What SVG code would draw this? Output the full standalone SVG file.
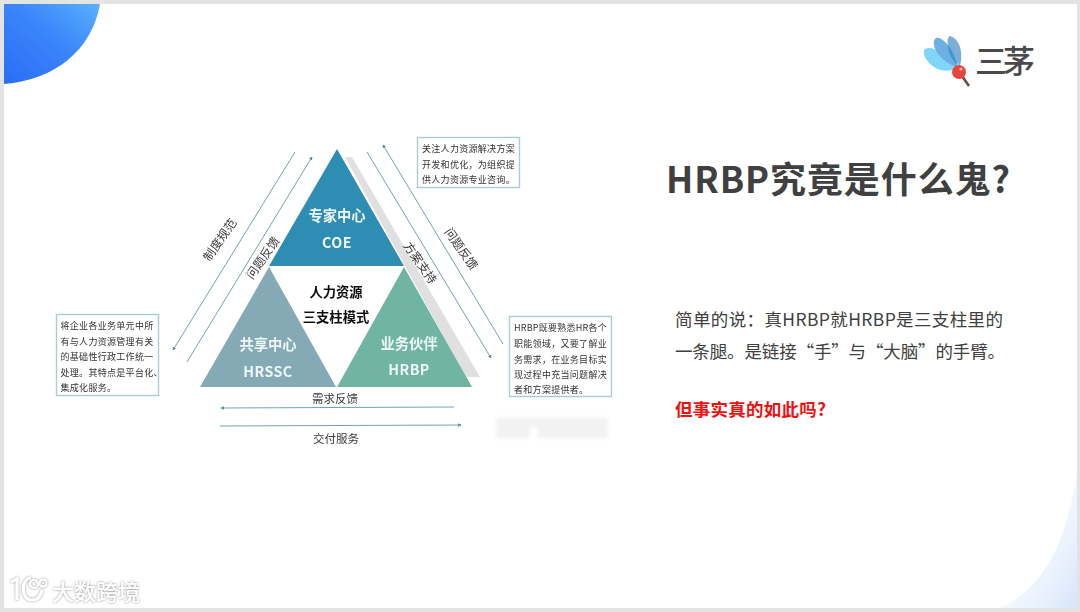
<svg xmlns="http://www.w3.org/2000/svg" width="1080" height="612" viewBox="0 0 1080 612">
<style>
text{font-family:"Noto Sans CJK SC","Noto Sans",sans-serif}
.box{fill:#fff;stroke:#a8cdd3;stroke-width:1.4}
.bt{font-size:9px;fill:#333;letter-spacing:.3px}
.ln{stroke:#6fa3b2;stroke-width:1;fill:none}
.lb{font-size:12px;fill:#3a3a3a}
.lc{font-size:11.5px;fill:#3a3a3a}
.w1{font-size:14.3px;font-weight:700;fill:#eef6f6;text-anchor:middle}
.w2{font-size:14.3px;font-weight:700;fill:#eef6f6;text-anchor:middle;letter-spacing:.4px}
.ct{font-size:13.3px;font-weight:700;fill:#111;text-anchor:middle}
.body{font-size:17.5px;fill:#404040}
</style>
<defs>
<linearGradient id="gc" x1="0" y1="1" x2="1" y2="0"><stop offset="0" stop-color="#2a6cf5"/><stop offset=".55" stop-color="#3b86fa"/><stop offset="1" stop-color="#58b0fd"/></linearGradient>
<linearGradient id="gb" x1="0" y1="0" x2="1" y2="1"><stop offset="0" stop-color="#fff" stop-opacity="0"/><stop offset="1" stop-color="#d6e5fb"/></linearGradient>
<marker id="ah" viewBox="0 0 6 6" refX="5" refY="3" markerWidth="3.5" markerHeight="3.5" orient="auto-start-reverse"><path d="M0 0L6 3L0 6z" fill="#4d8fa5"/></marker>
<filter id="soft" x="-5%" y="-5%" width="110%" height="110%"><feGaussianBlur stdDeviation=".35"/></filter>
<filter id="blur" x="-20%" y="-50%" width="140%" height="200%"><feGaussianBlur stdDeviation="2"/></filter>
<filter id="sh" x="-10%" y="-20%" width="120%" height="140%"><feDropShadow dx="0" dy="0" stdDeviation="1.2" flood-color="#666" flood-opacity=".8"/></filter>
</defs>
<rect width="1080" height="612" fill="#e3e3e3"/>
<rect x="4" y="4" width="1073" height="604" fill="#fff"/>
<path d="M1000 608C1040 590 1066 550 1077 470V608Z" fill="url(#gb)"/>
<path d="M4 4H100C92 50 55 80 4 84Z" fill="url(#gc)"/>

<g id="logo">
<path d="M955 69C945 52 930 44 924 50C922 60 938 76 955 69Z" fill="#7fd6f8"/>
<path d="M958 68C955 50 942 36 936 38C930 42 936 60 958 68Z" fill="#6cb0e2"/>
<path d="M960 66C964 50 958 38 950 36C945 37 947 55 960 66Z" fill="#7ab0d8"/>
<path d="M958 68C956 58 952 50 948 45C948 53 952 60 958 66Z" fill="#3f97d0"/>
<path d="M962 76L969 86" stroke="#6b4a48" stroke-width="2.6"/>
<circle cx="959" cy="72" r="7" fill="#e9443f"/>
<circle cx="961" cy="69" r="1.6" fill="#f8b5ae"/>
<text x="975" y="73" font-size="32" font-weight="500" fill="#4a4a4a" textLength="60">三茅</text>
</g>

<g id="figure" filter="url(#soft)">
<polygon points="345,157 352,157 480,377 466,377" fill="#e0e0e0"/>
<g id="node-coe"><polygon points="337,149 404,266 269,266" fill="#2f8db3"/>
<text class="w1" x="337" y="221">专家中心</text><text class="w2" x="337" y="248">COE</text></g>
<g id="node-hrssc"><polygon points="269,267 336,387 200,387" fill="#84abb5"/>
<text class="w1" x="268" y="350">共享中心</text><text class="w2" x="268" y="377">HRSSC</text></g>
<g id="node-hrbp"><polygon points="404,267 472,387 337,387" fill="#6fb5a2"/>
<text class="w1" x="409" y="349">业务伙伴</text><text class="w2" x="409" y="375">HRBP</text></g>
<g id="node-center"><text class="ct" x="336" y="297">人力资源</text><text class="ct" x="336" y="322">三支柱模式</text></g>

<g id="connectors">
<line class="ln" x1="295" y1="152" x2="173" y2="350" marker-end="url(#ah)"/>
<line class="ln" x1="187" y1="362" x2="312" y2="157" marker-end="url(#ah)"/>
<line class="ln" x1="503" y1="344" x2="383" y2="145" marker-end="url(#ah)"/>
<line class="ln" x1="367" y1="152" x2="491" y2="358" marker-end="url(#ah)"/>
<line class="ln" x1="454" y1="407" x2="221" y2="408" marker-end="url(#ah)"/>
<line class="ln" x1="220" y1="426" x2="461" y2="425" marker-end="url(#ah)"/>
</g>
<text class="lb" transform="translate(220 240) rotate(-55)" text-anchor="middle" y="4">制度规范</text>
<text class="lb" transform="translate(263 258) rotate(-55)" text-anchor="middle" y="4">问题反馈</text>
<text class="lb" transform="translate(420 263) rotate(55)" text-anchor="middle" y="4">方案支持</text>
<text class="lb" transform="translate(461 249) rotate(55)" text-anchor="middle" y="4">问题反馈</text>
<text class="lc" x="335" y="403" text-anchor="middle">需求反馈</text>
<text class="lc" x="336" y="443" text-anchor="middle">交付服务</text>

<g id="box-left"><rect class="box" x="56.500" y="314.500" width="102" height="81"/>
<text class="bt" x="60.500" y="329">将企业各业务单元中所</text>
<text class="bt" x="60.500" y="345">有与人力资源管理有关</text>
<text class="bt" x="60.500" y="360">的基础性行政工作统一</text>
<text class="bt" x="60.500" y="376">处理。其特点是平台化、</text>
<text class="bt" x="60.500" y="391">集成化服务。</text></g>
<g id="box-top"><rect class="box" x="417.500" y="137.500" width="102" height="50"/>
<text class="bt" x="422" y="152">关注人力资源解决方案</text>
<text class="bt" x="422" y="168">开发和优化，为组织提</text>
<text class="bt" x="422" y="183">供人力资源专业咨询。</text></g>
<g id="box-right"><rect class="box" x="509.500" y="316.500" width="102" height="80"/>
<text class="bt" x="514" y="331" textLength="93">HRBP既要熟悉HR各个</text>
<text class="bt" x="514" y="347">职能领域，又要了解业</text>
<text class="bt" x="514" y="363">务需求，在业务目标实</text>
<text class="bt" x="514" y="378">现过程中充当问题解决</text>
<text class="bt" x="514" y="393">者和方案提供者。</text></g>
</g>
<g filter="url(#blur)" fill="#f2f2f2"><rect x="496" y="418" width="34" height="20"/><rect x="538" y="418" width="70" height="20"/><rect x="530" y="418" width="8" height="9"/></g>

<text x="666" y="193" font-size="36" font-weight="700" fill="#404040" textLength="344" lengthAdjust="spacing">HRBP究竟是什么鬼?</text>
<text class="body" x="675" y="326" textLength="328">简单的说：真HRBP就HRBP是三支柱里的</text>
<text class="body" x="675" y="358" textLength="330">一条腿。是链接“手”与“大脑”的手臂。</text>
<text x="675" y="416" font-size="17.500" font-weight="700" fill="#f01010" textLength="151">但事实真的如此吗?</text>

<g id="watermark" filter="url(#sh)">
<path d="M11 582L17 579V600M31 578C21 578 20 600 32 600C38 600 41 596 42 590" fill="none" stroke="#fff" stroke-width="3"/>
<circle cx="34" cy="584" r="4" fill="none" stroke="#fff" stroke-width="2"/>
<circle cx="43" cy="583" r="3.500" fill="none" stroke="#fff" stroke-width="2"/>
<text x="52" y="600" font-size="22" font-weight="500" fill="#fff" textLength="88">大数跨境</text>
</g>
</svg>
